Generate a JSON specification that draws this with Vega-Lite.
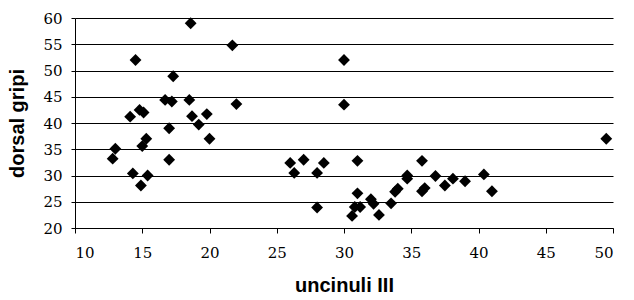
{
  "$schema": "https://vega.github.io/schema/vega-lite/v6.json",
  "autosize": "none",
  "width": 538,
  "height": 210,
  "padding": {"left": 75, "top": 18, "right": 21, "bottom": 72},
  "background": "white",
  "config": {"view": {"stroke": null}},
  "data": {"values": [
    {"u": 12.8, "d": 33.2}, {"u": 13.0, "d": 35.1}, {"u": 14.1, "d": 41.2}, {"u": 14.3, "d": 30.4},
    {"u": 14.5, "d": 52.0}, {"u": 14.8, "d": 42.5}, {"u": 15.1, "d": 42.0}, {"u": 14.9, "d": 28.1},
    {"u": 15.0, "d": 35.6}, {"u": 15.3, "d": 37.0}, {"u": 15.4, "d": 30.0},
    {"u": 16.7, "d": 44.4}, {"u": 17.2, "d": 44.1}, {"u": 17.0, "d": 39.0}, {"u": 17.0, "d": 33.0},
    {"u": 17.3, "d": 48.9}, {"u": 18.6, "d": 59.0}, {"u": 18.5, "d": 44.4}, {"u": 18.7, "d": 41.3},
    {"u": 19.2, "d": 39.7}, {"u": 19.8, "d": 41.7}, {"u": 20.0, "d": 37.0}, {"u": 21.7, "d": 54.8},
    {"u": 22.0, "d": 43.6},
    {"u": 26.0, "d": 32.4}, {"u": 26.3, "d": 30.5}, {"u": 27.0, "d": 33.0}, {"u": 28.0, "d": 30.5},
    {"u": 28.0, "d": 23.9}, {"u": 28.5, "d": 32.4}, {"u": 30.0, "d": 52.0}, {"u": 30.0, "d": 43.5},
    {"u": 30.6, "d": 22.3}, {"u": 30.8, "d": 24.0}, {"u": 31.0, "d": 26.6}, {"u": 31.0, "d": 32.8},
    {"u": 31.2, "d": 24.0}, {"u": 32.0, "d": 25.5}, {"u": 32.2, "d": 24.6}, {"u": 32.6, "d": 22.5},
    {"u": 33.5, "d": 24.7}, {"u": 33.8, "d": 26.9}, {"u": 34.0, "d": 27.5}, {"u": 34.7, "d": 29.4},
    {"u": 34.7, "d": 30.0}, {"u": 35.8, "d": 32.8}, {"u": 35.8, "d": 27.0}, {"u": 36.0, "d": 27.6},
    {"u": 36.8, "d": 29.9}, {"u": 37.5, "d": 28.1}, {"u": 38.1, "d": 29.4}, {"u": 39.0, "d": 28.9},
    {"u": 40.4, "d": 30.2}, {"u": 41.0, "d": 27.0}, {"u": 49.5, "d": 37.0}
  ]},
  "mark": {"type": "point", "shape": "diamond", "filled": true, "color": "black", "opacity": 1, "size": 140},
  "encoding": {
    "x": {
      "field": "u", "type": "quantitative", "title": "uncinuli III",
      "scale": {"domain": [10, 50], "nice": false, "zero": false},
      "axis": {
        "values": [10, 15, 20, 25, 30, 35, 40, 45, 50], "grid": false,
        "domainColor": "black", "tickColor": "black", "tickSize": 5,
        "labelFont": "DejaVu Serif", "labelFontSize": 15, "labelColor": "black", "labelPadding": 12,
        "titleFont": "Liberation Sans, Arial, sans-serif", "titleFontSize": 20, "titleFontWeight": "bold", "titleColor": "black",
        "titlePadding": 15
      }
    },
    "y": {
      "field": "d", "type": "quantitative", "title": "dorsal gripi",
      "scale": {"domain": [20, 60], "nice": false, "zero": false},
      "axis": {
        "values": [20, 25, 30, 35, 40, 45, 50, 55, 60], "grid": true, "gridColor": "black", "gridOpacity": 1, "gridWidth": 1,
        "domainColor": "black", "tickColor": "black", "tickSize": 4,
        "labelFont": "DejaVu Serif", "labelFontSize": 15, "labelColor": "black", "labelPadding": 9,
        "titleFont": "Liberation Sans, Arial, sans-serif", "titleFontSize": 20, "titleFontWeight": "bold", "titleColor": "black",
        "titlePadding": 15
      }
    }
  }
}
